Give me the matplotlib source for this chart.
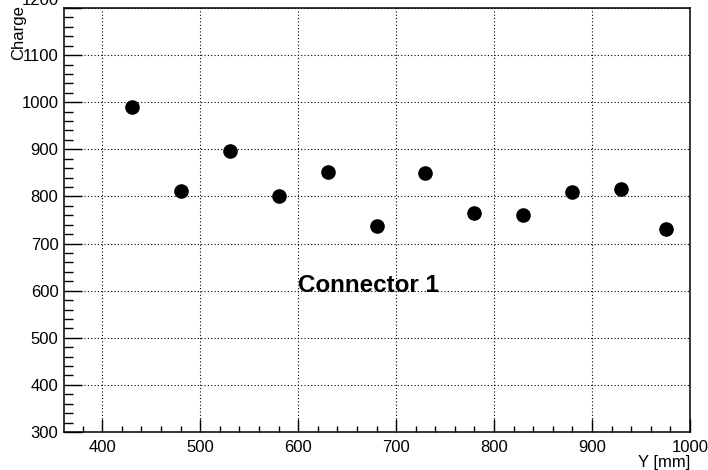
import matplotlib
matplotlib.use("Agg")
import matplotlib.pyplot as plt
from matplotlib.ticker import MultipleLocator, FuncFormatter

# charge per position along connector 1
y_pos = [430, 480, 530, 580, 630, 680, 730, 780, 830, 880, 930, 975]
charge = [990, 811, 897, 801, 851, 737, 849, 764, 761, 809, 816, 731]

plt.rcParams["font.family"] = ["Liberation Sans", "DejaVu Sans"]

fig = plt.figure(figsize=(7.08, 4.70), dpi=100)
ax = fig.add_axes([64 / 708, 1 - 432 / 470, 626 / 708, 424 / 470])

ax.plot(y_pos, charge, "o", color="black", markersize=9.5, zorder=3)

ax.set_xlim(361, 1000)
ax.set_ylim(300, 1200)
ax.xaxis.set_major_locator(MultipleLocator(100))
ax.xaxis.set_minor_locator(MultipleLocator(20))
ax.yaxis.set_major_locator(MultipleLocator(100))
ax.yaxis.set_minor_locator(MultipleLocator(20))
# top label is pushed up out of the pad in the original, drawn separately below
ax.yaxis.set_major_formatter(FuncFormatter(lambda v, p: "" if v >= 1200 else f"{v:.0f}"))

ax.grid(True, which="major", color="black", linestyle=(0, (1, 2)), linewidth=0.8)
ax.tick_params(which="both", direction="in", top=False, right=False,
               labelsize=12, width=1, color="black")
ax.tick_params(axis="x", which="major", length=9.5, pad=6)
ax.tick_params(axis="x", which="minor", length=4.5)
ax.tick_params(axis="y", which="major", length=13, pad=4)
ax.tick_params(axis="y", which="minor", length=6.5)
for s in ax.spines.values():
    s.set_linewidth(1.1)

fig.text(59 / 708, 1 - 5 / 470, "1200", fontsize=12, ha="right", va="baseline")

ax.set_xlabel("Y [mm]", fontsize=12, loc="right", labelpad=0)
ax.set_ylabel("Charge", fontsize=12, loc="top", labelpad=0)
ax.yaxis.set_label_coords(-0.061, 1.006)

ax.text(600, 597, "Connector 1", fontsize=17.4, fontweight="bold",
        ha="left", va="baseline")

fig.savefig("out.png", dpi=100)
